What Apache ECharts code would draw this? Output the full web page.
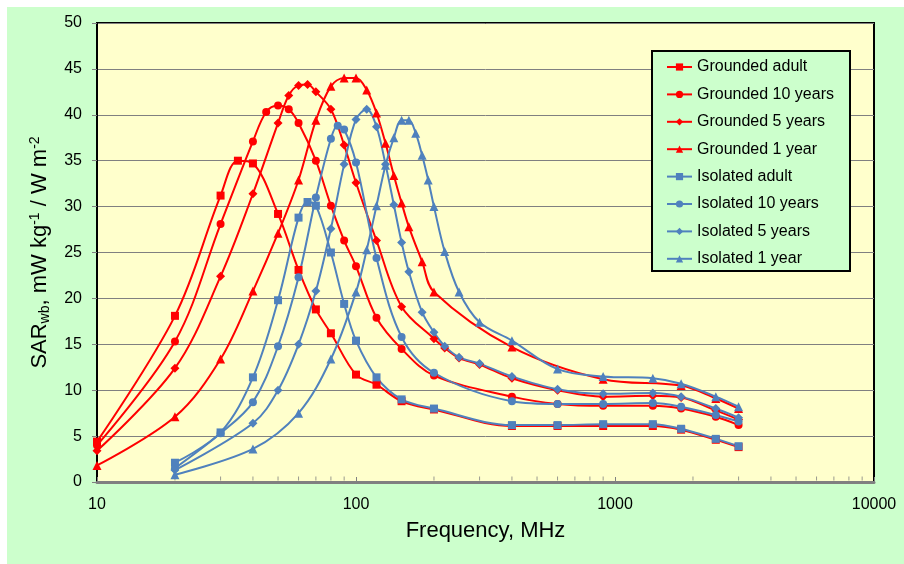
<!DOCTYPE html>
<html>
<head>
<meta charset="utf-8">
<script src="https://cdn.jsdelivr.net/npm/echarts@6/dist/echarts.min.js"></script>
<style>
html,body{margin:0;padding:0;background:#fff;width:904px;height:564px;overflow:hidden;}
#bg{position:absolute;left:7px;top:7px;right:0;bottom:0;background:#CCFFCC;}
#chart{position:absolute;left:0;top:0;width:904px;height:564px;}
</style>
</head>
<body>
<div id="bg"></div>
<div id="chart"></div>
<script>
// ---- data (frequency MHz, SAR values) ----
const gAdultF = [10,20,30,35,40,50,60,70,80,100,120,150,200,400,600,900,1400,1800,2450,3000];
const gAdultV = [4.4,18.1,31.2,35.0,34.7,29.2,23.1,18.8,16.2,11.7,10.6,8.8,7.9,6.1,6.1,6.1,6.1,5.7,4.6,3.8];

const g10F = [10,20,30,40,45,50,55,60,70,80,90,100,120,150,200,400,600,900,1400,1800,2450,3000];
const g10V = [4.0,15.3,28.1,37.1,40.3,41.0,40.6,39.1,35.0,30.1,26.3,23.5,17.9,14.5,11.6,9.3,8.5,8.3,8.3,8.0,7.1,6.2];

const g5F = [10,20,30,40,50,55,60,65,70,80,90,100,120,150,200,220,250,300,400,600,900,1400,1800,2450,3000];
const g5V = [3.4,12.4,22.4,31.4,39.1,42.1,43.2,43.3,42.5,40.6,36.7,32.6,26.3,19.1,15.6,14.6,13.5,12.8,11.3,10.0,9.3,9.4,9.2,7.8,6.8];

const g1F = [10,20,30,40,50,60,70,80,90,100,110,120,130,140,150,160,180,200,400,900,1800,2450,3000];
const g1V = [1.8,7.1,13.4,20.8,27.1,32.9,39.4,43.1,44.0,44.0,42.7,40.2,36.9,33.4,30.4,27.8,24.0,20.7,14.7,11.2,10.5,9.1,8.0];

const iAdultF = [20,30,40,50,60,65,70,80,90,100,120,150,200,400,600,900,1400,1800,2450,3000];
const iAdultV = [2.1,5.4,11.4,19.8,28.8,30.5,30.1,25.0,19.4,15.4,11.4,9.0,8.0,6.2,6.2,6.3,6.3,5.8,4.7,3.9];

const i10F = [20,30,40,50,60,70,80,85,90,100,120,150,200,400,600,900,1400,1800,2450,3000];
const i10V = [1.5,5.3,8.7,14.8,22.3,31.0,37.4,38.8,38.4,34.8,24.4,15.8,11.9,8.8,8.5,8.5,8.6,8.2,7.3,6.6];

const i5F = [20,40,50,60,70,80,90,100,110,120,130,140,150,160,180,200,220,250,300,400,600,900,1400,1800,2450,3000];
const i5V = [1.3,6.4,10.0,15.0,20.8,27.6,34.6,39.5,40.6,38.7,34.6,30.2,26.1,22.9,18.5,16.3,14.8,13.6,12.9,11.5,10.1,9.6,9.7,9.3,8.0,7.0];

const i1F = [20,40,60,80,100,110,120,130,140,150,160,170,180,190,200,220,250,300,400,600,900,1400,1800,2450,3000];
const i1V = [0.8,3.6,7.5,13.4,20.7,25.3,30.1,34.5,37.5,39.4,39.4,38.0,35.6,32.9,30.0,25.1,20.7,17.4,15.4,12.3,11.5,11.3,10.7,9.3,8.2];

const seriesNames = ['Grounded adult','Grounded 10 years','Grounded 5 years','Grounded 1 year',
                     'Isolated adult','Isolated 10 years','Isolated 5 years','Isolated 1 year'];
const xTickLabels = [10,100,1000,10000];
const yTicks = {min:0, max:50, interval:5};
const minorTickVals = [20,30,40,50,60,70,80,90,200,300,400,500,600,700,800,900,2000,3000,4000,5000,6000,7000,8000,9000];

// ---- chart ----
const RED = '#FF0000', BLUE = '#4F81BD';
const FONT = '"Liberation Sans", Arial, sans-serif';
function zip(f, v){ return f.map((x,i)=>[x, v[i]]); }
function mk(name, f, v, color, symbol, size){
  return {
    name, type:'line', data: zip(f,v), smooth:0.35,
    symbol, symbolSize:size, showSymbol:true,
    lineStyle:{color, width:2}, itemStyle:{color},
    emphasis:{disabled:true}, animation:false, z:3
  };
}
const series = [
  mk(seriesNames[0], gAdultF, gAdultV, RED, 'rect', 8),
  mk(seriesNames[1], g10F, g10V, RED, 'circle', 8),
  mk(seriesNames[2], g5F, g5V, RED, 'diamond', 9),
  mk(seriesNames[3], g1F, g1V, RED, 'triangle', 9),
  mk(seriesNames[4], iAdultF, iAdultV, BLUE, 'rect', 8),
  mk(seriesNames[5], i10F, i10V, BLUE, 'circle', 8),
  mk(seriesNames[6], i5F, i5V, BLUE, 'diamond', 9),
  mk(seriesNames[7], i1F, i1V, BLUE, 'triangle', 9),
  {
    name:'minor', type:'scatter', data: minorTickVals.map(f=>[f,0]),
    symbol:'rect', symbolSize:[1,4], symbolOffset:[0,-3.5], clip:false,
    itemStyle:{color:'#808080'}, silent:true, animation:false, z:2
  }
];

const chart = echarts.init(document.getElementById('chart'), null, {renderer:'canvas'});
chart.setOption({
  backgroundColor:'transparent',
  animation:false,
  textStyle:{fontFamily:FONT},
  grid:{left:97, top:23, width:777, height:459, show:true, backgroundColor:'#FFFFCC',
        borderColor:'#000', borderWidth:2, containLabel:false},
  xAxis:{
    type:'log', logBase:10, min:xTickLabels[0], max:xTickLabels[xTickLabels.length-1],
    name:'Frequency, MHz', nameLocation:'middle', nameGap:38,
    nameTextStyle:{fontSize:22, color:'#000', fontFamily:FONT},
    axisLine:{show:true, lineStyle:{color:'#808080', width:3}},
    axisTick:{show:true, inside:true, length:5, lineStyle:{color:'#808080', width:1}},
    axisLabel:{fontSize:16, color:'#000', margin:15, fontFamily:FONT,
               formatter:(v)=>String(Math.round(v))},
    splitLine:{show:false}
  },
  yAxis:{
    type:'value', min:yTicks.min, max:yTicks.max, interval:yTicks.interval,
    name:'{a|SAR}{sub|wb}{a|, mW kg}{sup|-1}{a| / W m}{sup|-2}',
    nameLocation:'middle', nameGap:45, nameRotate:90,
    nameTextStyle:{
      color:'#000', fontFamily:FONT, fontSize:22,
      rich:{
        a:{fontSize:22, color:'#000', fontFamily:FONT},
        sub:{fontSize:14, color:'#000', fontFamily:FONT, padding:[10,0,0,0]},
        sup:{fontSize:14, color:'#000', fontFamily:FONT, padding:[0,0,10,0]}
      }
    },
    axisLine:{show:true, lineStyle:{color:'#000', width:2}},
    axisTick:{show:true, inside:false, length:5, lineStyle:{color:'#808080'}},
    axisLabel:{fontSize:16, color:'#000', margin:15, fontFamily:FONT},
    splitLine:{show:true, lineStyle:{color:'#808080', width:1}}
  },
  graphic:[{
    type:'rect', left:651, top:50, z:10,
    shape:{width:198, height:220},
    style:{fill:'#CCFFCC', stroke:'#000', lineWidth:2}
  }],
  legend:{
    show:true, orient:'vertical', left:666, top:59, z:20,
    data:seriesNames, itemWidth:25, itemHeight:9, itemGap:11.4,
    padding:0, selectedMode:false,
    textStyle:{fontSize:16, color:'#000', fontFamily:FONT, lineHeight:14}
  },
  series
});
</script>
</body>
</html>
